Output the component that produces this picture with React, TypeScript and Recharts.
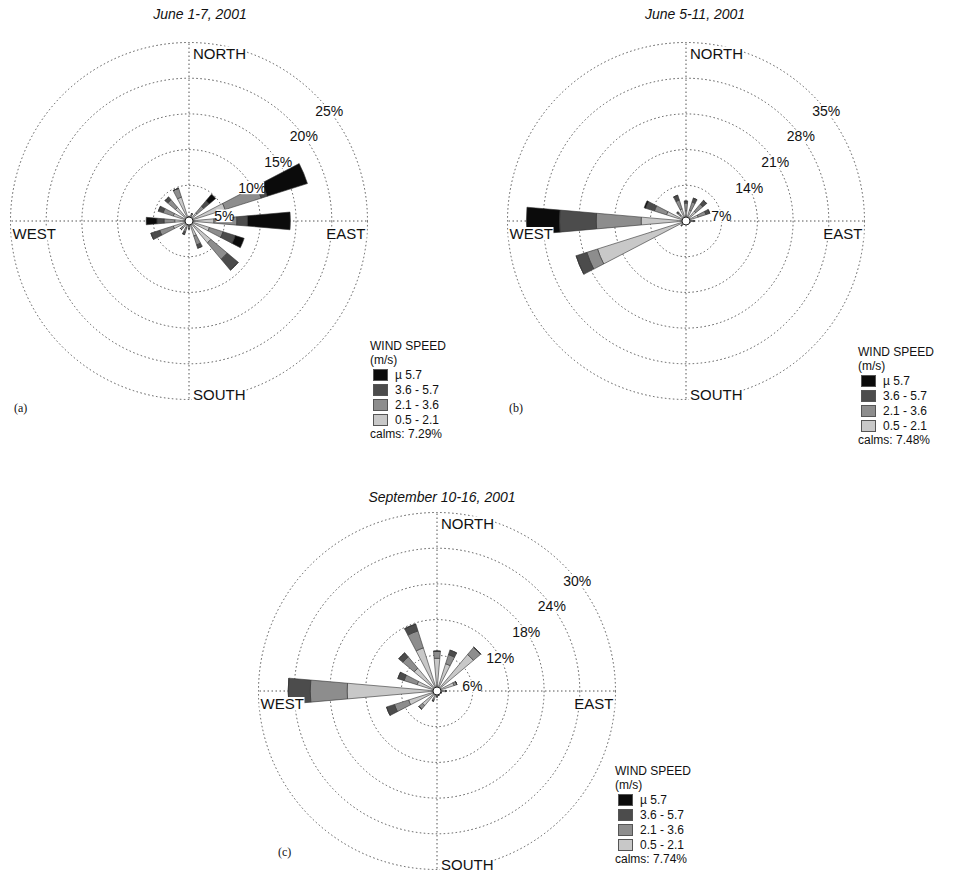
import React from "react";
import {
  RadialBarChart, RadialBar, PolarAngleAxis, PolarRadiusAxis, PolarGrid,
} from "recharts";

const FONT = "'Liberation Sans', Arial, Helvetica, sans-serif";

// 16 compass sectors, clockwise from north
const directions = ["N", "NNE", "NE", "ENE", "E", "ESE", "SE", "SSE", "S", "SSW", "SW", "WSW", "W", "WNW", "NW", "NNW"];

// speed classes, outermost first (legend order)
const speedLabels = ["\u00b5 5.7", "3.6 - 5.7", "2.1 - 3.6", "0.5 - 2.1"];
const speedColors = ["#0b0b0b", "#4c4c4c", "#8d8d8d", "#c8c8c8"];

const titles = ["June 1-7, 2001", "June 5-11, 2001", "September 10-16, 2001"];
const panelLetters = ["(a)", "(b)", "(c)"];
const calms = ["7.29%", "7.48%", "7.74%"];

// (a) June 1-7 : percent of time, per direction
const a05 = [0.6, 0.8, 1.5, 5.3, 3.5, 3.0, 4.0, 2.2, 0.8, 1.0, 1.2, 2.3, 2.0, 2.3, 2.5, 3.5];
const a21 = [0, 0.3, 1.2, 5.3, 3.2, 2.0, 3.0, 1.3, 0.3, 0.6, 0.4, 2.0, 1.5, 1.5, 1.4, 1.3];
const a36 = [0, 0, 1.0, 0.9, 1.5, 1.8, 2.0, 0.5, 0, 0.4, 0, 1.3, 1.0, 0.7, 0.5, 0];
const a57 = [0, 0, 1.2, 5.9, 6.0, 1.3, 0, 0, 0, 0, 0, 0, 1.5, 0, 0, 0];
const aTicks = [5, 10, 15, 20, 25];

// (b) June 5-11
const b05 = [2.0, 2.2, 2.5, 2.5, 1.2, 0.8, 0.6, 0.5, 0.4, 0.5, 1.0, 18.2, 8.8, 4.0, 1.5, 2.5];
const b21 = [1.5, 1.7, 1.8, 1.6, 0.4, 0, 0, 0, 0, 0, 0.3, 2.2, 8.8, 2.5, 0.6, 1.8];
const b36 = [0.4, 0.8, 1.0, 0.8, 0, 0, 0, 0, 0, 0, 0, 2.2, 7.2, 1.8, 0.3, 1.0];
const b57 = [0, 0, 0, 0, 0, 0, 0, 0, 0, 0, 0, 0, 6.5, 0.3, 0, 0];
const bTicks = [7, 14, 21, 28, 35];

// (c) September 10-16
const c05 = [5.5, 4.8, 8.0, 3.0, 1.5, 0.8, 0.6, 0.8, 1.0, 1.5, 3.2, 5.0, 15.1, 3.5, 5.0, 7.6];
const c21 = [1.2, 1.6, 1.6, 0.5, 0, 0, 0, 0, 0, 0.3, 0.8, 2.5, 6.2, 2.3, 2.5, 3.0];
const c36 = [0, 0.8, 0, 0, 0, 0, 0, 0, 0, 0, 0, 1.4, 3.7, 1.1, 0.9, 1.2];
const c57 = [0, 0, 0, 0, 0, 0, 0, 0, 0, 0, 0, 0, 0, 0, 0, 0];
const cTicks = [6, 12, 18, 24, 30];

const buildRows = (s05: number[], s21: number[], s36: number[], s57: number[]) =>
  directions.map((dir, i) => ({ dir, s05: s05[i], s21: s21[i], s36: s36[i], s57: s57[i] }));

const R = 178.5;

// text with a white box behind it, like the original labels
const boxed = (key: string, x: number, y: number, w: number, label: string, anchor: "start" | "end" | "middle", size: number) => {
  const bx = anchor === "start" ? x - 1 : anchor === "end" ? x - w + 1 : x - w / 2;
  return (
    <g key={key}>
      <rect x={bx} y={y - size * 0.8} width={w} height={size * 0.9} fill="#fff" />
      <text x={x} y={y} textAnchor={anchor} fontFamily={FONT} fontSize={size} fill="#111">{label}</text>
    </g>
  );
};

const compassTick = (cx: number, cy: number) => (props: any) => {
  const v = props?.payload?.value;
  if (v === "N")
    return (
      <g>
        {boxed("n", cx + 4, cy - R + 16, 54, "NORTH", "start", 15)}
        <circle cx={cx} cy={cy} r={4} fill="#fff" stroke="#222" strokeWidth={1} />
      </g>
    );
  if (v === "S") return boxed("s", cx + 4, cy + R, 53, "SOUTH", "start", 15);
  if (v === "E") return boxed("e", cx + R - 2, cy + 18, 39, "EAST", "end", 15);
  if (v === "W") return boxed("w", cx - R + 2, cy + 18, 45, "WEST", "start", 15);
  return <g />;
};

// ring labels sit where each circle meets a diagonal line just below the 45 deg ray
const ringTick = (cx: number, cy: number) => (props: any) => {
  const { x, y, payload } = props;
  const r = Math.hypot(x - cx, y - cy);
  if (r < 1) return <g />;
  const th = Math.acos(Math.min(1, 30 / (r * Math.SQRT2))) - Math.PI / 4;
  const lx = cx + r * Math.cos(th);
  const ly = cy - r * Math.sin(th);
  const label = `${payload.value}%`;
  return boxed("r", lx, ly + 5, label.length * 8, label, "middle", 14);
};

type RoseProps = {
  left: number; top: number; width: number; height: number;
  cx: number; cy: number; ticks: number[]; rows: any[];
};

function Rose({ left, top, width, height, cx, cy, ticks, rows }: RoseProps) {
  const keys = ["s05", "s21", "s36", "s57"];
  return (
    <div style={{ position: "absolute", left, top }}>
      <RadialBarChart
        width={width}
        height={height}
        data={rows}
        cx={cx}
        cy={cy}
        innerRadius={0}
        outerRadius={R}
        startAngle={78.75}
        endAngle={-281.25}
        layout="centric"
        barCategoryGap="28%"
        margin={{ top: 0, right: 0, bottom: 0, left: 0 }}
      >
        <PolarGrid gridType="circle" polarAngles={[0, 90, 180, 270]} stroke="#555" strokeDasharray="1.5 2.5" />
        {keys.map((k, i) => (
          <RadialBar
            key={k}
            dataKey={k}
            stackId="w"
            fill={speedColors[3 - i]}
            stroke="#333"
            strokeWidth={0.6}
            isAnimationActive={false}
          />
        ))}
        <PolarAngleAxis type="category" dataKey="dir" axisLine={false} tickLine={false} tick={compassTick(cx, cy)} />
        <PolarRadiusAxis
          type="number"
          angle={40}
          domain={[0, ticks[ticks.length - 1]]}
          ticks={ticks}
          axisLine={false}
          tickLine={false}
          tick={ringTick(cx, cy)}
        />
      </RadialBarChart>
    </div>
  );
}

function SpeedLegend({ left, top, calm }: { left: number; top: number; calm: string }) {
  return (
    <div style={{ position: "absolute", left, top, fontFamily: FONT, fontSize: 12, lineHeight: "14px", color: "#111" }}>
      <div>WIND SPEED</div>
      <div>(m/s)</div>
      {speedLabels.map((s, i) => (
        <div key={s} style={{ display: "flex", alignItems: "center", height: 15 }}>
          <span style={{ display: "inline-block", width: 13, height: 10, background: speedColors[i], border: "1px solid #555", marginLeft: 3, marginRight: 7 }} />
          {s}
        </div>
      ))}
      <div>calms: {calm}</div>
    </div>
  );
}

const titleStyle: React.CSSProperties = {
  position: "absolute", fontFamily: FONT, fontStyle: "italic", fontSize: 14, color: "#111",
  transform: "translateX(-50%)", whiteSpace: "nowrap",
};
const letterStyle: React.CSSProperties = {
  position: "absolute", fontFamily: "'Liberation Serif', 'Times New Roman', serif", fontSize: 12, color: "#111",
};

export default function App() {
  return (
    <div style={{ position: "absolute", left: 0, top: 0, width: 960, height: 891, background: "#fff", overflow: "hidden" }}>
      <Rose left={0} top={0} width={480} height={445} cx={189} cy={221} ticks={aTicks} rows={buildRows(a05, a21, a36, a57)} />
      <Rose left={480} top={0} width={480} height={445} cx={206} cy={221} ticks={bTicks} rows={buildRows(b05, b21, b36, b57)} />
      <Rose left={240} top={445} width={480} height={446} cx={197} cy={246} ticks={cTicks} rows={buildRows(c05, c21, c36, c57)} />

      <div style={{ ...titleStyle, left: 200, top: 6 }}>{titles[0]}</div>
      <div style={{ ...titleStyle, left: 695, top: 6 }}>{titles[1]}</div>
      <div style={{ ...titleStyle, left: 442, top: 489 }}>{titles[2]}</div>

      <div style={{ ...letterStyle, left: 14, top: 401 }}>{panelLetters[0]}</div>
      <div style={{ ...letterStyle, left: 509, top: 401 }}>{panelLetters[1]}</div>
      <div style={{ ...letterStyle, left: 278, top: 845 }}>{panelLetters[2]}</div>

      <SpeedLegend left={370} top={339} calm={calms[0]} />
      <SpeedLegend left={858} top={345} calm={calms[1]} />
      <SpeedLegend left={615} top={764} calm={calms[2]} />
    </div>
  );
}
